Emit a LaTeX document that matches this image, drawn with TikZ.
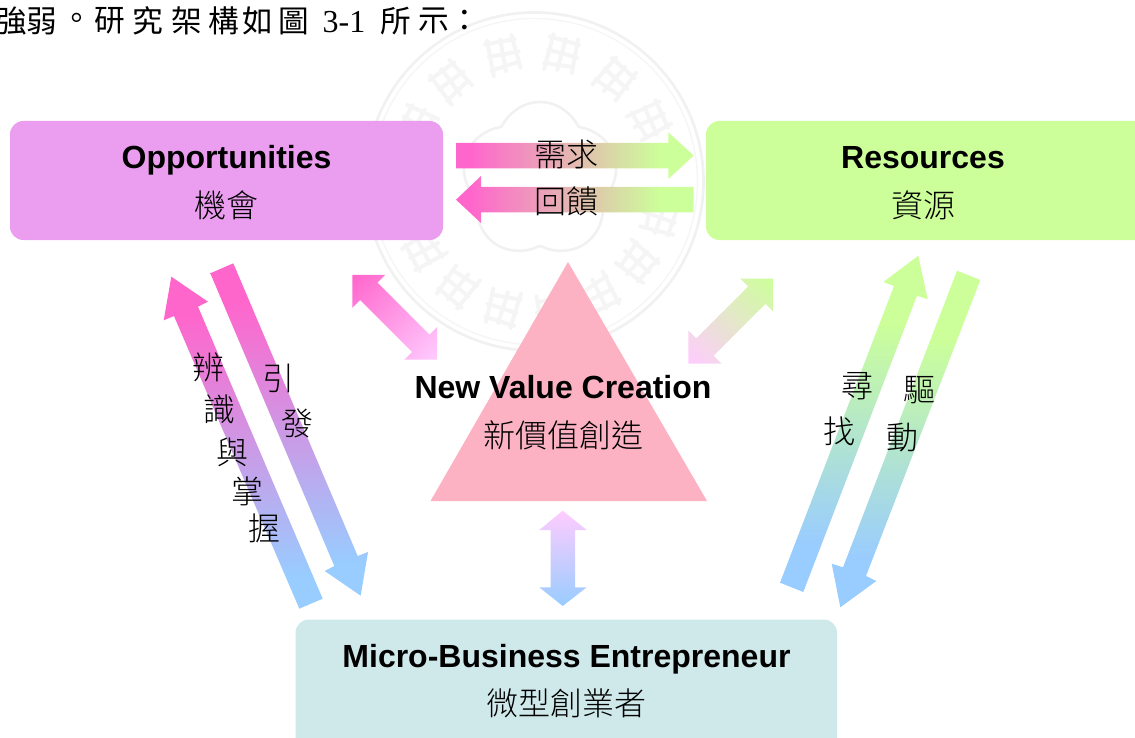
\documentclass[tikz,border=0pt]{standalone}
\usepackage{fontspec}
\setmainfont{Liberation Sans}
\newfontfamily\cjk{Noto Sans CJK TC Light}
\newfontfamily\cjkreg{Noto Sans CJK TC}
\newfontfamily\serifn{Liberation Serif}
\definecolor{pinkA}{HTML}{FF66CC}
\definecolor{lightP}{HTML}{FFCCFF}
\definecolor{greenA}{HTML}{CCFF99}
\definecolor{blueA}{HTML}{99CCFF}
\definecolor{oppC}{HTML}{EB9DEF}
\definecolor{microC}{HTML}{CFE9EB}
\definecolor{triC}{HTML}{FDB2C3}
\definecolor{wm}{HTML}{F1F1F1}
\definecolor{wmb}{HTML}{F5F5F5}
\pgfdeclarehorizontalshading{pinkgreen}{100bp}{color(0bp)=(pinkA);color(28bp)=(pinkA);color(68bp)=(greenA);color(100bp)=(greenA)}
\pgfdeclareverticalshading{pinkblue}{100bp}{color(0bp)=(blueA);color(30bp)=(blueA);color(69bp)=(pinkA);color(100bp)=(pinkA)}
\pgfdeclareverticalshading{greenblue}{100bp}{color(0bp)=(blueA);color(32bp)=(blueA);color(65bp)=(greenA);color(100bp)=(greenA)}
\tikzset{
  en/.style={font=\fontsize{24}{28}\selectfont\bfseries,inner sep=0pt,text=black,anchor=base},
  zh/.style={font=\fontsize{24}{28}\cjk,inner sep=0pt,text=black},
  ch/.style={font=\fontsize{23}{26}\cjkreg,inner sep=0pt,text=black},
  wmline/.style={draw=wm,line width=2pt},
  wmtxt/.style={draw=wmb,line width=3pt,line cap=round}
}
\begin{document}
\begin{tikzpicture}[x=0.75pt,y=-0.75pt]
\useasboundingbox (0,0) rectangle (1135,738);
% watermark: seal
\draw[wmline] (534.5,181.5) circle[radius=169];
\draw[draw=wmb,line width=1pt] (534.5,181.5) circle[radius=163];
\draw[wmline] plot[smooth cycle,samples=60,domain=0:354] ({540+(66+12*abs(cos(2.5*\x)))*sin(\x)},{180-(66+12*abs(cos(2.5*\x)))*cos(\x)});
\foreach \a in {-62,-38,-12,14,40,64,100,122,144,166,188,210,232,254}{
  \begin{scope}[shift={(534.5,181.5)},rotate=\a]
    \draw[wmtxt] (-15,-145) -- (15,-143) (-14,-132) -- (16,-130) (-15,-118) -- (14,-120)
       (-12,-148) -- (-14,-112) (1,-146) -- (-1,-114) (13,-148) -- (14,-114);
  \end{scope}
}
% boxes
\fill[oppC,rounded corners=10pt] (10,121) rectangle (443,240);
\fill[greenA,rounded corners=10pt] (706,121) rectangle (1150,240);
\fill[microC,rounded corners=10pt] (295.5,619.5) rectangle (837,760);
\fill[triC] (568,262) -- (707,501) -- (430.5,501) -- cycle;
% horizontal arrows
\shade[shading=pinkgreen] (456,143) -- (668.3,143) -- (668.3,132.3) -- (693.7,155.5) -- (668.3,179) -- (668.3,168.3) -- (456,168.3) -- cycle;
\shade[shading=pinkgreen] (693.7,187) -- (481,187) -- (481,176) -- (456,199.7) -- (481,223) -- (481,212.3) -- (693.7,212.3) -- cycle;
% long arrows
\shade[shading=pinkblue] (210.3,273.3) -- (233.3,263.3) -- (357.7,556) -- (368,552) -- (360.7,595.7) -- (324.7,571) -- (334.3,566) -- cycle;
\shade[shading=pinkblue] (171.3,276.7) -- (208,301.7) -- (198,306.7) -- (322.7,598.7) -- (299.3,608.7) -- (174,316) -- (163.7,320.3) -- cycle;
\shade[shading=greenblue] (918.3,255.7) -- (927.7,299.3) -- (917,295.7) -- (803.3,592) -- (780,582.7) -- (894,286) -- (883.3,282) -- cycle;
\shade[shading=greenblue] (957,270.7) -- (980.3,280) -- (866,576) -- (876.3,581) -- (840.3,607.3) -- (831.7,563.7) -- (843,567.3) -- cycle;
% diagonal arrows
\begin{scope}[transform canvas={shift={(394.8,317.3)},rotate=-45}]
\shade[left color=pinkA,right color=lightP] (60,0) -- (36.7,23.3) -- (36.7,12.3) -- (-36.7,12.3) -- (-36.7,23.3) -- (-60,0) -- (-36.7,-23.3) -- (-36.7,-12.3) -- (36.7,-12.3) -- (36.7,-23.3) -- cycle;
\end{scope}
\begin{scope}[transform canvas={shift={(730.8,321.1)},rotate=45}]
\shade[left color=lightP,right color=greenA] (60,0) -- (36.7,23.3) -- (36.7,12.3) -- (-36.7,12.3) -- (-36.7,23.3) -- (-60,0) -- (-36.7,-23.3) -- (-36.7,-12.3) -- (36.7,-12.3) -- (36.7,-23.3) -- cycle;
\end{scope}
% vertical arrow
\shade[top color=lightP,bottom color=blueA] (562.7,510.7) -- (586.7,530) -- (575,530) -- (575,587.3) -- (586.7,587.3) -- (562.7,606) -- (539.3,587.3) -- (550.7,587.3) -- (550.7,530) -- (539.3,530) -- cycle;
% box labels
\node[en] (opp) at (226.5,169) {Opportunities};
\node[zh] (oppz) at (226,205) {機會};
\node[en] (res) at (923,169) {Resources};
\node[zh] (resz) at (923,205) {資源};
\node[en] (nvc) at (563,398) {New Value Creation};
\node[zh] (nvcz) at (563,435) {新價值創造};
\node[en] (mbe) at (566.5,667) {Micro-Business Entrepreneur};
\node[zh] (mbez) at (566,703) {微型創業者};
\node[zh] (xq) at (566,154) {需求};
\node[zh] (hk) at (566,201) {回饋};
% arrow labels
\node[zh] (a1) at (208,367) {辨};
\node[zh] (a2) at (219,409) {識};
\node[zh] (a3) at (232,452) {與};
\node[zh] (a4) at (247,491) {掌};
\node[zh] (a5) at (264,528) {握};
\node[zh] (b1) at (278,378) {引};
\node[zh] (b2) at (297,423) {發};
\node[zh] (c1) at (857,386) {尋};
\node[zh] (c2) at (839,431) {找};
\node[zh] (d1) at (919,390) {驅};
\node[zh] (d2) at (902,438) {動};
% heading
\foreach \c/\x in {強/12,弱/42,。/77,研/110,究/148,架/187,構/224,如/258,圖/294,所/396,示/434,：/465}
  \node[ch] (t\x) at (\x,21) {\c};
\node[font=\fontsize{24}{28}\serifn,inner sep=0pt] (tnum) at (344,22) {3-1};
\end{tikzpicture}
\end{document}
